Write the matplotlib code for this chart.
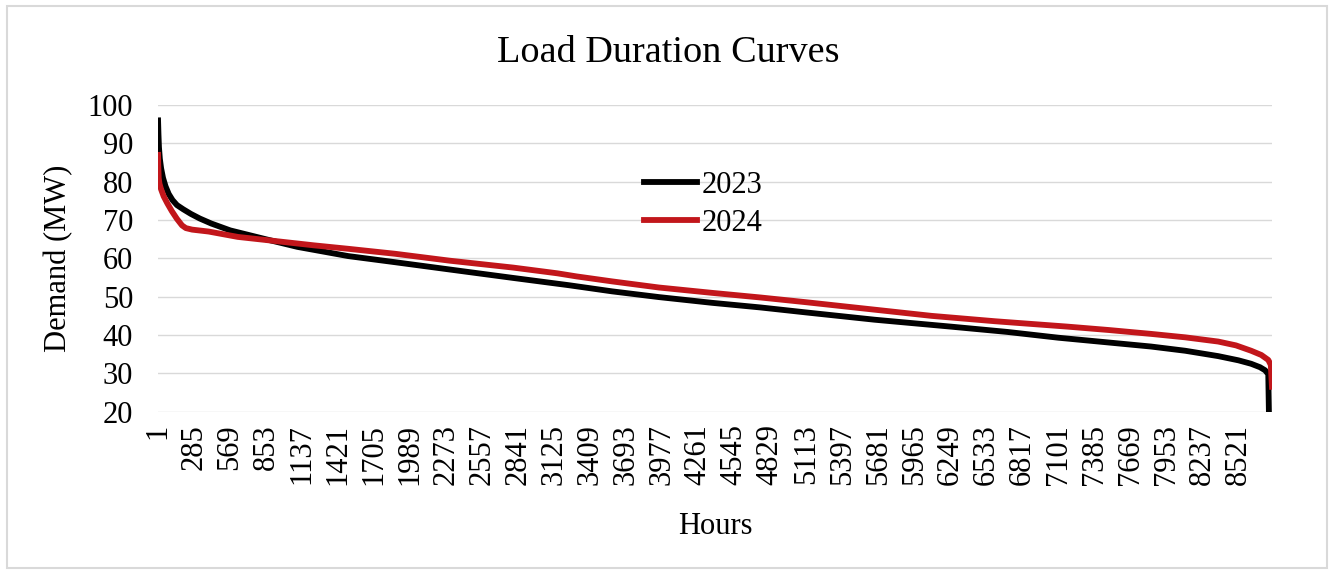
import matplotlib.pyplot as plt
from matplotlib.patches import Rectangle

plt.rcParams['font.family'] = ['Liberation Serif', 'DejaVu Serif']

# sorted hourly demand, read at breakpoints along each curve
hours_2023 = [1, 4, 8, 15, 25, 40, 60, 85, 115, 150, 200, 260, 330, 420, 570,
              850, 1100, 1500, 1870, 2300, 2800, 3240, 3580, 3950, 4370, 4750,
              5110, 5650, 6250, 6700, 7100, 7450, 7830, 8100, 8360, 8520, 8620,
              8690, 8730, 8755, 8760]
demand_2023 = [96.0, 92.5, 89.0, 86.0, 83.5, 81.0, 78.8, 76.8, 75.2, 73.9, 72.8,
               71.6, 70.4, 69.1, 67.3, 65.0, 63.0, 60.6, 59.0, 57.1, 54.9, 53.0,
               51.4, 49.9, 48.4, 47.2, 45.9, 44.0, 42.2, 40.8, 39.3, 38.2, 37.0,
               35.9, 34.5, 33.4, 32.5, 31.6, 30.8, 29.8, 20.0]

hours_2024 = [1, 3, 6, 12, 25, 45, 75, 110, 150, 190, 220, 270, 400, 630, 850,
              1230, 1500, 1870, 2300, 2800, 3150, 3300, 3580, 3950, 4370, 4750,
              5100, 5600, 6100, 6600, 7170, 7500, 7830, 8100, 8360, 8500, 8620,
              8700, 8755, 8775, 8784]
demand_2024 = [87.0, 84.0, 81.0, 79.5, 78.0, 76.2, 74.3, 72.3, 70.3, 68.6, 67.9,
               67.5, 67.0, 65.6, 64.8, 63.4, 62.5, 61.2, 59.4, 57.6, 56.1, 55.3,
               54.0, 52.4, 51.0, 49.8, 48.6, 46.8, 45.0, 43.6, 42.2, 41.3, 40.3,
               39.4, 38.3, 37.3, 35.9, 34.8, 33.5, 32.2, 26.5]

hour_ticks = list(range(1, 8522, 284))
demand_ticks = [20, 30, 40, 50, 60, 70, 80, 90, 100]

fig = plt.figure(figsize=(13.3, 5.71), dpi=100)
ax = fig.add_axes([0.1188, 0.279, 0.8376, 0.537])

ax.plot(hours_2023, demand_2023, color='black', lw=4.2, label='2023',
        solid_joinstyle='round', zorder=3)
ax.plot(hours_2024, demand_2024, color='#c2161b', lw=4.2, label='2024',
        solid_joinstyle='round', zorder=4)

ax.set_xlim(0.5, 8784.5)
ax.set_ylim(20, 100)
ax.set_yticks(demand_ticks)
ax.set_xticks(hour_ticks)
ax.set_xticklabels([str(h) for h in hour_ticks], rotation=90)
ax.tick_params(axis='both', length=0, labelsize=22)
ax.tick_params(axis='y', pad=18)
ax.tick_params(axis='x', pad=9)
ax.grid(axis='y', color='#d9d9d9', lw=1.0)
ax.set_axisbelow(True)
for s in ax.spines.values():
    s.set_visible(False)

ax.set_xlabel('Hours', fontsize=22, labelpad=19)
ax.set_ylabel('Demand (MW)', fontsize=22, labelpad=10)
fig.text(0.5025, 0.908, 'Load Duration Curves', fontsize=27.5,
         ha='center', va='center')

fig.legend(loc='upper left', bbox_to_anchor=(0.4725, 0.728), frameon=False,
           fontsize=22, handlelength=1.75, handletextpad=0.15,
           labelspacing=0.3, borderpad=0)

# light frame round the whole chart
fig.patches.append(Rectangle((7 / 1330, 3 / 571), 1320 / 1330, 562 / 571,
                             transform=fig.transFigure, fill=False,
                             edgecolor='#d9d9d9', lw=1.5))

fig.savefig('out.png', dpi=100)
